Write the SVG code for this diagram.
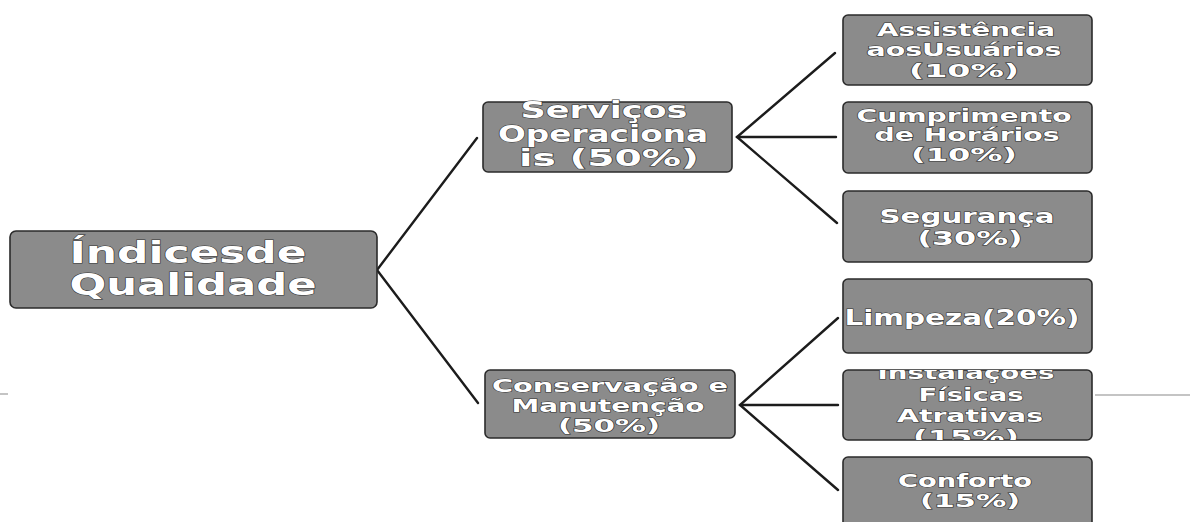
<svg xmlns="http://www.w3.org/2000/svg" width="1190" height="522" viewBox="0 0 1190 522">
<style>
.box{fill:#8b8b8b;stroke:#2b2b2b;stroke-width:1.6}
.t{font-family:"DejaVu Sans","Verdana","Liberation Sans",sans-serif;font-weight:bold;fill:#ffffff;stroke:#333333;stroke-width:1;paint-order:stroke;text-anchor:middle}
.c{fill:none;stroke:#1c1c1c;stroke-width:2.4;stroke-linecap:round}
.g{stroke:#b0b0b0;stroke-width:1.5}
</style>
<defs>
<clipPath id="clip5"><rect x="843" y="370" width="249" height="70" rx="5"/></clipPath>
</defs>
<line class="g" x1="0" y1="394" x2="8" y2="394"/>
<line class="g" x1="1095" y1="395" x2="1190" y2="395"/>
<g id="connectors">
<polyline class="c" points="477,138 377,270 478,403"/>
<polyline class="c" points="835,53 737,137 837,223"/>
<line class="c" x1="737" y1="137" x2="836" y2="137"/>
<polyline class="c" points="838,318 740,405 838,490"/>
<line class="c" x1="740" y1="405" x2="838" y2="405"/>
</g>
<g id="root">
<rect class="box" x="10" y="231" width="367" height="77" rx="6"/>
<text class="t" font-size="30"><tspan x="188" y="263" textLength="237" lengthAdjust="spacingAndGlyphs">Índicesde</tspan><tspan x="193" y="295" textLength="247" lengthAdjust="spacingAndGlyphs">Qualidade</tspan></text>
</g>
<g id="servicos">
<rect class="box" x="483" y="102" width="249" height="70" rx="5"/>
<text class="t" font-size="23"><tspan x="604" y="118" textLength="167" lengthAdjust="spacingAndGlyphs">Serviços</tspan><tspan x="603" y="142" textLength="210" lengthAdjust="spacingAndGlyphs">Operaciona</tspan><tspan x="609" y="166" textLength="180" lengthAdjust="spacingAndGlyphs">is (50%)</tspan></text>
</g>
<g id="conservacao">
<rect class="box" x="485" y="370" width="250" height="68" rx="5"/>
<text class="t" font-size="18"><tspan x="610" y="392" textLength="236" lengthAdjust="spacingAndGlyphs">Conservação e</tspan><tspan x="608" y="412" textLength="193" lengthAdjust="spacingAndGlyphs">Manutenção</tspan><tspan x="609" y="432" textLength="102" lengthAdjust="spacingAndGlyphs">(50%)</tspan></text>
</g>
<g id="assistencia">
<rect class="box" x="843" y="15" width="249" height="70" rx="5"/>
<text class="t" font-size="17"><tspan x="966" y="36" textLength="178" lengthAdjust="spacingAndGlyphs">Assistência</tspan><tspan x="964" y="56" textLength="195" lengthAdjust="spacingAndGlyphs">aosUsuários</tspan><tspan x="964" y="77" textLength="110" lengthAdjust="spacingAndGlyphs">(10%)</tspan></text>
</g>
<g id="cumprimento">
<rect class="box" x="843" y="102" width="249" height="71" rx="5"/>
<text class="t" font-size="17"><tspan x="964" y="122" textLength="215" lengthAdjust="spacingAndGlyphs">Cumprimento</tspan><tspan x="967" y="141" textLength="185" lengthAdjust="spacingAndGlyphs">de Horários</tspan><tspan x="964" y="161" textLength="106" lengthAdjust="spacingAndGlyphs">(10%)</tspan></text>
</g>
<g id="seguranca">
<rect class="box" x="843" y="191" width="249" height="71" rx="5"/>
<text class="t" font-size="19"><tspan x="967" y="223" textLength="175" lengthAdjust="spacingAndGlyphs">Segurança</tspan><tspan x="970" y="245" textLength="105" lengthAdjust="spacingAndGlyphs">(30%)</tspan></text>
</g>
<g id="limpeza">
<rect class="box" x="843" y="279" width="249" height="74" rx="5"/>
<text class="t" font-size="22"><tspan x="962" y="325" textLength="235" lengthAdjust="spacingAndGlyphs">Limpeza(20%)</tspan></text>
</g>
<g id="instalacoes">
<rect class="box" x="843" y="370" width="249" height="70" rx="5"/>
<text class="t" font-size="18" clip-path="url(#clip5)"><tspan x="966" y="379" textLength="177" lengthAdjust="spacingAndGlyphs">Instalações</tspan><tspan x="971" y="401" textLength="105" lengthAdjust="spacingAndGlyphs">Físicas</tspan><tspan x="970" y="422" textLength="146" lengthAdjust="spacingAndGlyphs">Atrativas</tspan><tspan x="966" y="443" textLength="106" lengthAdjust="spacingAndGlyphs">(15%)</tspan></text>
</g>
<g id="conforto">
<rect class="box" x="843" y="457" width="249" height="75" rx="5"/>
<text class="t" font-size="18"><tspan x="965" y="487" textLength="134" lengthAdjust="spacingAndGlyphs">Conforto</tspan><tspan x="970" y="507" textLength="100" lengthAdjust="spacingAndGlyphs">(15%)</tspan></text>
</g>
</svg>
